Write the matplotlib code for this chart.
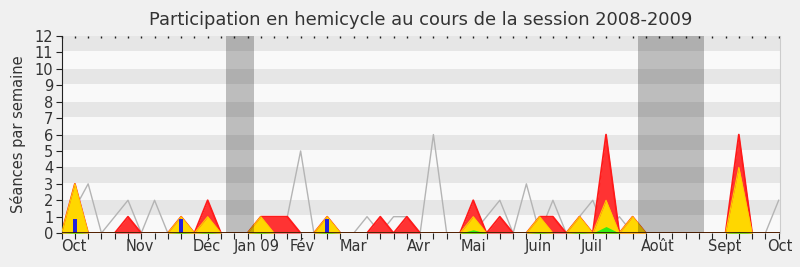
import numpy as np
import matplotlib
matplotlib.use("Agg")
import matplotlib.pyplot as plt

# weekly values, session 2008-2009 (55 weeks, index 0..54)
presence = [0, 3, 0, 0, 0, 1, 0, 0, 0, 1, 0, 2, 0, 0, 0, 1, 1, 1, 0, 0,
            1, 0, 0, 0, 1, 0, 1, 0, 0, 0, 0, 2, 0, 1, 0, 0, 1, 1, 0, 1,
            0, 6, 0, 1, 0, 0, 0, 0, 0, 0, 0, 6, 0, 0, 0]
interventions = [0, 3, 0, 0, 0, 0, 0, 0, 0, 1, 0, 1, 0, 0, 0, 1, 0, 0, 0, 0,
                 1, 0, 0, 0, 0, 0, 0, 0, 0, 0, 0, 1, 0, 0, 0, 0, 1, 0, 0, 1,
                 0, 2, 0, 1, 0, 0, 0, 0, 0, 0, 0, 4, 0, 0, 0]
longues = [0, 0.05, 0, 0, 0, 0, 0, 0, 0, 0.05, 0, 0.05, 0, 0, 0, 0.05, 0, 0, 0, 0,
           0.05, 0, 0, 0, 0, 0, 0, 0, 0, 0, 0, 0.2, 0, 0, 0, 0, 0.05, 0, 0, 0.05,
           0, 0.4, 0, 0, 0, 0, 0, 0, 0, 0, 0, 0.1, 0, 0, 0]
seances = [0, 1.5, 3, 0, 1, 2, 0, 2, 0, 0, 0, 0, 0, 0, 0, 0, 0, 1, 5, 0,
           0, 0, 0, 1, 0, 1, 1, 0, 6, 0, 0, 0, 1, 2, 0, 3, 0, 2, 0, 1,
           2, 0, 1, 0, 0, 0, 0, 0, 0, 0, 0, 1, 0, 0, 2]
questions_x = [1, 9, 20]
questions_h = [0.85, 0.85, 0.85]
vacances = [(12.4, 14.5), (43.4, 48.4)]
mois = ["Oct", "Nov", "Déc", "Jan 09", "Fév", "Mar", "Avr", "Mai", "Juin",
        "Juil", "Août", "Sept", "Oct"]
mois_pos = [0.95, 5.9, 10.9, 14.7, 18.1, 22.0, 26.9, 31.0, 35.9, 39.9, 44.9, 49.9, 54.1]

weeks = np.arange(len(presence))

fig = plt.figure(figsize=(8, 2.67), dpi=100, facecolor="#f0f0f0")
ax = fig.add_axes([0.077, 0.127, 0.898, 0.738])
ax.set_facecolor("#f9f9f9")

# striped background
for k in range(1, 12, 2):
    ax.axhspan(k + 0.08, k + 1, color="#e6e6e6", lw=0, zorder=0)

ax.plot(weeks, seances, color="#b4b4b4", lw=1, zorder=1)

ax.fill_between(weeks, presence, color="#ff3333", lw=0, zorder=2)
ax.plot(weeks, presence, color="#ff1a1a", lw=1.3, zorder=2)
ax.fill_between(weeks, interventions, color="#ffd700", lw=0, zorder=3)
ax.plot(weeks, interventions, color="#ffcc00", lw=0.8, zorder=3)
ax.fill_between(weeks, longues, color="#33ee11", lw=0, zorder=4)
ax.bar(questions_x, questions_h, width=0.3, color="#2222dd", zorder=5)

for a, b in vacances:
    ax.axvspan(a, b, color="black", alpha=0.24, lw=0, zorder=6)

ax.axhline(0, color="#331100", lw=1.2, zorder=7)

ax.set_xlim(0, 54)
ax.set_ylim(0, 12)
ax.set_yticks(range(13))
ax.set_xticks(mois_pos)
ax.set_xticklabels(mois)
ax.set_xticks(range(55), minor=True)
ax.tick_params(axis="x", which="major", length=0, labelsize=10.5, pad=4, colors="#333333")
ax.tick_params(axis="x", which="minor", length=4, width=0.8, color="#222222")
ax.tick_params(axis="y", length=4, width=0.8, labelsize=10.5, pad=2, colors="#333333")
ax.tick_params(axis="y", color="#222222")

# small dotted ticks along the top edge
top = ax.secondary_xaxis("top")
top.set_xticks(range(55))
top.tick_params(length=1.5, width=1, direction="in", labeltop=False, color="#222222")
top.spines["top"].set_visible(False)

ax.spines["top"].set_visible(False)
ax.spines["right"].set_color("#cccccc")
ax.spines["left"].set_color("#222222")
ax.spines["bottom"].set_visible(False)

ax.set_ylabel("Séances par semaine", fontsize=10.5, color="#333333", labelpad=6)
fig.text(0.526, 0.925, "Participation en hemicycle au cours de la session 2008-2009",
         ha="center", va="center", fontsize=12.9, color="#333333")

fig.savefig("out.png", dpi=100, facecolor=fig.get_facecolor())
